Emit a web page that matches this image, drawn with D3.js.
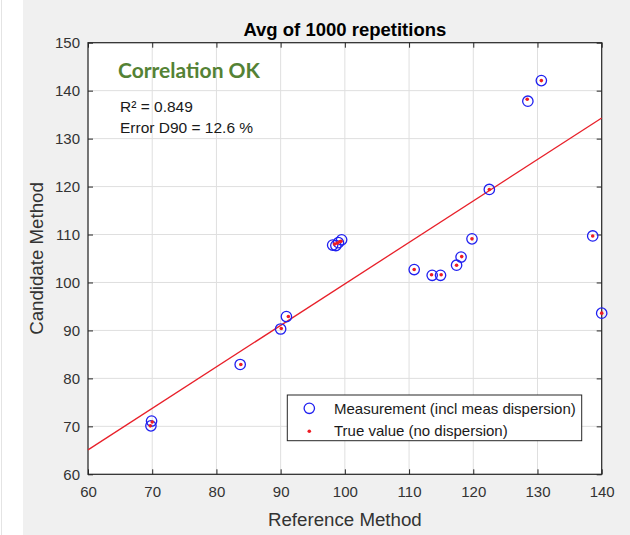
<!DOCTYPE html>
<html>
<head>
<meta charset="utf-8">
<script src="https://cdn.jsdelivr.net/npm/d3@7"></script>
<style>
  html, body { margin: 0; padding: 0; background: #ffffff; }
  svg { display: block; }
  text { font-family: "Liberation Sans", Arial, Helvetica, sans-serif; }
</style>
</head>
<body>
<svg id="chart" width="630" height="535"></svg>
<script>
// ---- Data ----
const measRef  = [69.9, 69.8, 83.7, 90.0, 90.9, 98.1, 98.6, 99.0, 99.5, 110.8, 113.6, 114.9, 117.4, 118.1, 119.8, 122.5, 128.5, 130.6, 138.6, 140.0];
const measCand = [71.1, 70.1, 82.9, 90.3, 92.9, 107.8, 107.7, 108.3, 108.9, 102.7, 101.5, 101.5, 103.6, 105.3, 109.1, 119.4, 137.8, 142.1, 109.7, 93.6];
const trueRef  = [70.0, 69.7, 83.8, 90.1, 91.2, 98.4, 98.8, 99.2, 99.4, 110.8, 113.5, 115.0, 117.4, 118.2, 119.8, 122.5, 128.4, 130.6, 138.6, 140.0];
const trueCand = [70.9, 70.1, 82.9, 90.4, 92.9, 108.0, 108.2, 108.5, 108.6, 102.7, 101.6, 101.6, 103.6, 105.4, 109.1, 119.4, 138.2, 142.1, 109.7, 93.6];
const fitX = [60, 140];
const fitY = [65.1, 134.3];
const xTicks = [60, 70, 80, 90, 100, 110, 120, 130, 140];
const yTicks = [60, 70, 80, 90, 100, 110, 120, 130, 140, 150];
const titleText = "Avg of 1000 repetitions";
const xLabel = "Reference Method";
const yLabel = "Candidate Method";
const statusText = "Correlation OK";
const statLines = ["R\u00B2 = 0.849", "Error D90 = 12.6 %"];
const legendLabels = ["Measurement (incl meas dispersion)", "True value (no dispersion)"];

// ---- Layout ----
const svg = d3.select("#chart");
const L = 88, R = 601.7, T = 42.7, B = 474.3;
const x = d3.scaleLinear().domain([60, 140]).range([L, R]);
const y = d3.scaleLinear().domain([60, 150]).range([B, T]);
const axisColor = "#262626";

// background
svg.append("rect").attr("x", 0).attr("y", 0).attr("width", 630).attr("height", 535).attr("fill", "#ffffff");
svg.append("rect").attr("x", 23).attr("y", 0).attr("width", 607).attr("height", 535).attr("fill", "#f0f0f0");
svg.append("line").attr("x1", 1.5).attr("x2", 1.5).attr("y1", 0).attr("y2", 535).attr("stroke", "#e4e4e4");

// plot area
svg.append("rect").attr("x", L).attr("y", T).attr("width", R - L).attr("height", B - T).attr("fill", "#ffffff");

// grid
const grid = svg.append("g").attr("stroke", "#dfdfdf").attr("stroke-width", 1);
xTicks.forEach(v => grid.append("line").attr("x1", x(v)).attr("x2", x(v)).attr("y1", T).attr("y2", B));
yTicks.forEach(v => grid.append("line").attr("x1", L).attr("x2", R).attr("y1", y(v)).attr("y2", y(v)));

// axes
function styleAxis(g, showLabels) {
  g.select(".domain").remove();
  g.selectAll(".tick line").attr("stroke", axisColor).attr("stroke-width", 1);
  g.selectAll(".tick text")
    .attr("fill", "#333333")
    .style("font-size", "15px")
    .style("font-family", "'Liberation Sans', Arial, sans-serif");
  if (!showLabels) g.selectAll(".tick text").remove();
}
svg.append("g").attr("transform", `translate(0,${B})`)
  .call(d3.axisBottom(x).tickValues(xTicks).tickSize(-5).tickPadding(12).tickFormat(d3.format("d")))
  .call(g => styleAxis(g, true));
svg.append("g").attr("transform", `translate(0,${T})`)
  .call(d3.axisTop(x).tickValues(xTicks).tickSize(-5))
  .call(g => styleAxis(g, false));
svg.append("g").attr("transform", `translate(${L},0)`)
  .call(d3.axisLeft(y).tickValues(yTicks).tickSize(-5).tickPadding(8).tickFormat(d3.format("d")))
  .call(g => styleAxis(g, true));
svg.append("g").attr("transform", `translate(${R},0)`)
  .call(d3.axisRight(y).tickValues(yTicks).tickSize(-5))
  .call(g => styleAxis(g, false));

// box
svg.append("rect").attr("x", L).attr("y", T).attr("width", R - L).attr("height", B - T)
  .attr("fill", "none").attr("stroke", axisColor).attr("stroke-width", 1.2);

// regression line
svg.append("path")
  .datum(fitX.map((v, i) => [v, fitY[i]]))
  .attr("d", d3.line().x(d => x(d[0])).y(d => y(d[1])))
  .attr("fill", "none").attr("stroke", "#e8202a").attr("stroke-width", 1.3);

// measurement circles
svg.append("g").selectAll("circle")
  .data(measRef.map((v, i) => [v, measCand[i]]))
  .join("circle")
  .attr("cx", d => x(d[0])).attr("cy", d => y(d[1])).attr("r", 5.2)
  .attr("fill", "none").attr("stroke", "#2020f0").attr("stroke-width", 1.3);

// true value dots
svg.append("g").selectAll("circle")
  .data(trueRef.map((v, i) => [v, trueCand[i]]))
  .join("circle")
  .attr("cx", d => x(d[0])).attr("cy", d => y(d[1])).attr("r", 1.8)
  .attr("fill", "#ee1c24");

// title
svg.append("text").attr("x", (L + R) / 2).attr("y", 36).attr("text-anchor", "middle")
  .style("font-size", "18.5px").style("font-weight", "bold").attr("fill", "#000")
  .text(titleText);

// axis labels
svg.append("text").attr("x", (L + R) / 2).attr("y", 526).attr("text-anchor", "middle")
  .style("font-size", "18.7px").attr("fill", "#333333").text(xLabel);
svg.append("text").attr("transform", `translate(42.5,${(T + B) / 2}) rotate(-90)`)
  .attr("text-anchor", "middle").style("font-size", "18.7px").attr("fill", "#333333").text(yLabel);

// annotation
svg.append("text").attr("x", 118).attr("y", 78.3)
  .style("font-family", "Lato, 'Open Sans', sans-serif").style("font-size", "21px").style("font-weight", "bold")
  .attr("fill", "#548235").attr("textLength", 142).attr("lengthAdjust", "spacingAndGlyphs")
  .text(statusText);
statLines.forEach((s, i) => {
  svg.append("text").attr("x", 120).attr("y", 111.5 + i * 21.5)
    .style("font-size", "15.5px").attr("fill", "#1a1a1a").text(s);
});

// legend
const lg = svg.append("g");
lg.append("rect").attr("x", 287.3).attr("y", 395).attr("width", 294.4).attr("height", 45.7)
  .attr("fill", "#ffffff").attr("stroke", "#262626").attr("stroke-width", 1);
lg.append("circle").attr("cx", 309.3).attr("cy", 408.3).attr("r", 5.2)
  .attr("fill", "none").attr("stroke", "#2020f0").attr("stroke-width", 1.3);
lg.append("circle").attr("cx", 309.3).attr("cy", 431.2).attr("r", 1.8).attr("fill", "#ee1c24");
legendLabels.forEach((s, i) => {
  lg.append("text").attr("x", 334).attr("y", 413.5 + i * 22)
    .style("font-size", "15px").attr("fill", "#1a1a1a").text(s);
});
</script>
</body>
</html>
